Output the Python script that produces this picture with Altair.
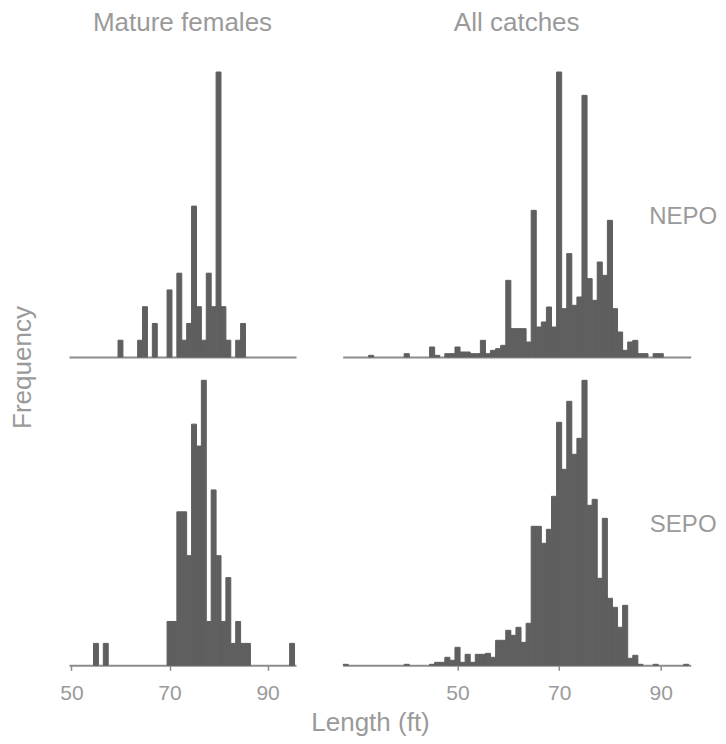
import altair as alt
import pandas as pd

# ---- data (bin centre in ft, count per 1-ft bin) ----
# Mature females, NEPO
mf_nepo_len = [60, 64, 65, 67, 70, 72, 73, 74, 75, 76, 77, 78, 79, 80, 81, 82, 84, 85]
mf_nepo_cnt = [1, 1, 3, 2, 4, 5, 1, 2, 9, 3, 1, 5, 3, 17, 3, 1, 1, 2]

# All catches, NEPO
all_nepo_len = [33, 40, 45, 46, 48, 49, 50, 51, 52, 53, 54, 55, 56, 57, 58, 59, 60,
                61, 62, 63, 64, 65, 66, 67, 68, 69, 70, 71, 72, 73, 74, 75, 76, 77,
                78, 79, 80, 81, 82, 83, 84, 85, 86, 87, 89, 90]
all_nepo_cnt = [1, 2, 6, 1, 2, 2, 6, 3, 3, 2, 2, 10, 2, 4, 5, 7, 46,
                17, 17, 17, 9, 88, 18, 21, 30, 18, 171, 29, 62, 31, 36, 157, 47, 34,
                57, 49, 82, 29, 15, 4, 9, 10, 2, 2, 2, 2]

# Mature females, SEPO
mf_sepo_len = [55, 57, 70, 71, 72, 73, 74, 75, 76, 77, 78, 79, 80, 81, 82, 83, 84, 85, 86, 95]
mf_sepo_cnt = [1, 1, 2, 2, 7, 7, 5, 11, 10, 13, 2, 8, 5, 2, 4, 1, 2, 1, 1, 1]

# All catches, SEPO
all_sepo_len = [28, 40, 45, 46, 47, 48, 49, 50, 51, 52, 53, 54, 55, 56, 57, 58, 59,
                60, 61, 62, 63, 64, 65, 66, 67, 68, 69, 70, 71, 72, 73, 74, 75, 76,
                77, 78, 79, 80, 81, 82, 83, 84, 85, 86, 89, 95]
all_sepo_cnt = [1, 1, 1, 3, 3, 8, 5, 18, 3, 11, 3, 11, 11, 12, 8, 25, 25,
                35, 30, 38, 23, 42, 139, 139, 122, 136, 169, 243, 196, 264, 211, 227, 285, 160,
                166, 87, 147, 67, 58, 38, 60, 7, 10, 1, 1, 1]

col_titles = ["Mature females", "All catches"]
row_titles = ["NEPO", "SEPO"]
tick_values = [50, 70, 90]

FONT = "Liberation Sans"
TXT = "#9a9a9a"
AX = "#8c8c8c"
BAR = "#5f5f5f"

LEFT_DOMAIN = [49.5, 95.8]
RIGHT_DOMAIN = [27.4, 95.9]
LEFT_W = 227
RIGHT_W = 348
H = 285


def panel(lengths, counts, domain, width, bottom, left_col, col_title=None, row_title=None,
          y_title=None, x_title=None):
    df = pd.DataFrame({"length": lengths, "count": counts})
    if bottom:
        xaxis_kw = dict(values=tick_values, tickSize=5, tickColor=AX, tickWidth=1.5,
                        labelFontSize=21, labelColor=TXT, labelFont=FONT,
                        labelBaseline="alphabetic", labelPadding=29,
                        domainColor=AX, domainWidth=2, grid=False)
        if x_title:
            xaxis_kw.update(title=x_title, titleFontSize=26, titleColor=TXT, titleFont=FONT,
                            titleFontWeight="normal", titleBaseline="alphabetic",
                            titleAlign="center", titleX=301, titleY=65)
        else:
            xaxis_kw.update(title=None)
        xaxis = alt.Axis(**xaxis_kw)
    else:
        xaxis = alt.Axis(labels=False, ticks=False, title=None, domainColor=AX,
                         domainWidth=2, grid=False)

    yscale = alt.Scale(domain=[0, max(counts)], nice=False, zero=True)
    if left_col:
        if y_title:
            yaxis = alt.Axis(title=y_title, labels=False, ticks=False, domain=False, grid=False,
                             titleFontSize=26, titleColor=TXT, titleFont=FONT,
                             titleFontWeight="normal", titleAngle=270,
                             titleBaseline="alphabetic", titleAlign="center",
                             titleX=-39, titleY=295)
            y = alt.Y("count:Q", scale=yscale, axis=yaxis)
        else:
            y = alt.Y("count:Q", scale=yscale, axis=None)
    else:
        yaxis = alt.Axis(orient="right", title=row_title, labels=False, ticks=False,
                         domain=False, grid=False, titleFontSize=24, titleColor=TXT,
                         titleFont=FONT, titleFontWeight="normal", titleAngle=0,
                         titleBaseline="alphabetic", titleAlign="center",
                         titleX=-8, titleY=151.5)
        y = alt.Y("count:Q", scale=yscale, axis=yaxis)

    ch = (
        alt.Chart(df)
        .transform_calculate(lo="datum.length - 0.5", hi="datum.length + 0.5", base="0")
        .mark_rect(color=BAR, stroke=BAR, strokeWidth=1)
        .encode(
            x=alt.X("lo:Q", scale=alt.Scale(domain=domain, nice=False, zero=False), axis=xaxis),
            x2="hi:Q",
            y=y,
            y2="base:Q",
        )
        .properties(width=width, height=H)
    )
    if col_title:
        ch = ch.properties(title=alt.TitleParams(col_title, fontSize=26, color=TXT, font=FONT,
                                                 fontWeight="normal", baseline="alphabetic",
                                                 anchor="middle", offset=14.4))
    return ch


tl = panel(mf_nepo_len, mf_nepo_cnt, LEFT_DOMAIN, LEFT_W, False, True,
           col_title=col_titles[0], y_title="Frequency")
tr = panel(all_nepo_len, all_nepo_cnt, RIGHT_DOMAIN, RIGHT_W, False, False,
           col_title=col_titles[1], row_title=row_titles[0])
bl = panel(mf_sepo_len, mf_sepo_cnt, LEFT_DOMAIN, LEFT_W, True, True,
           x_title="Length (ft)")
br = panel(all_sepo_len, all_sepo_cnt, RIGHT_DOMAIN, RIGHT_W, True, False,
           row_title=row_titles[1])

chart = (
    alt.concat(tl, tr, bl, br, columns=2, spacing={"row": 23.3, "column": 46.7},
               bounds="flush", align="each")
    .properties(padding={"left": 1, "top": 2, "right": 0, "bottom": 0})
    .configure_view(stroke=None)
)

chart.save("out.html", embed_options={"renderer": "svg", "actions": False})
